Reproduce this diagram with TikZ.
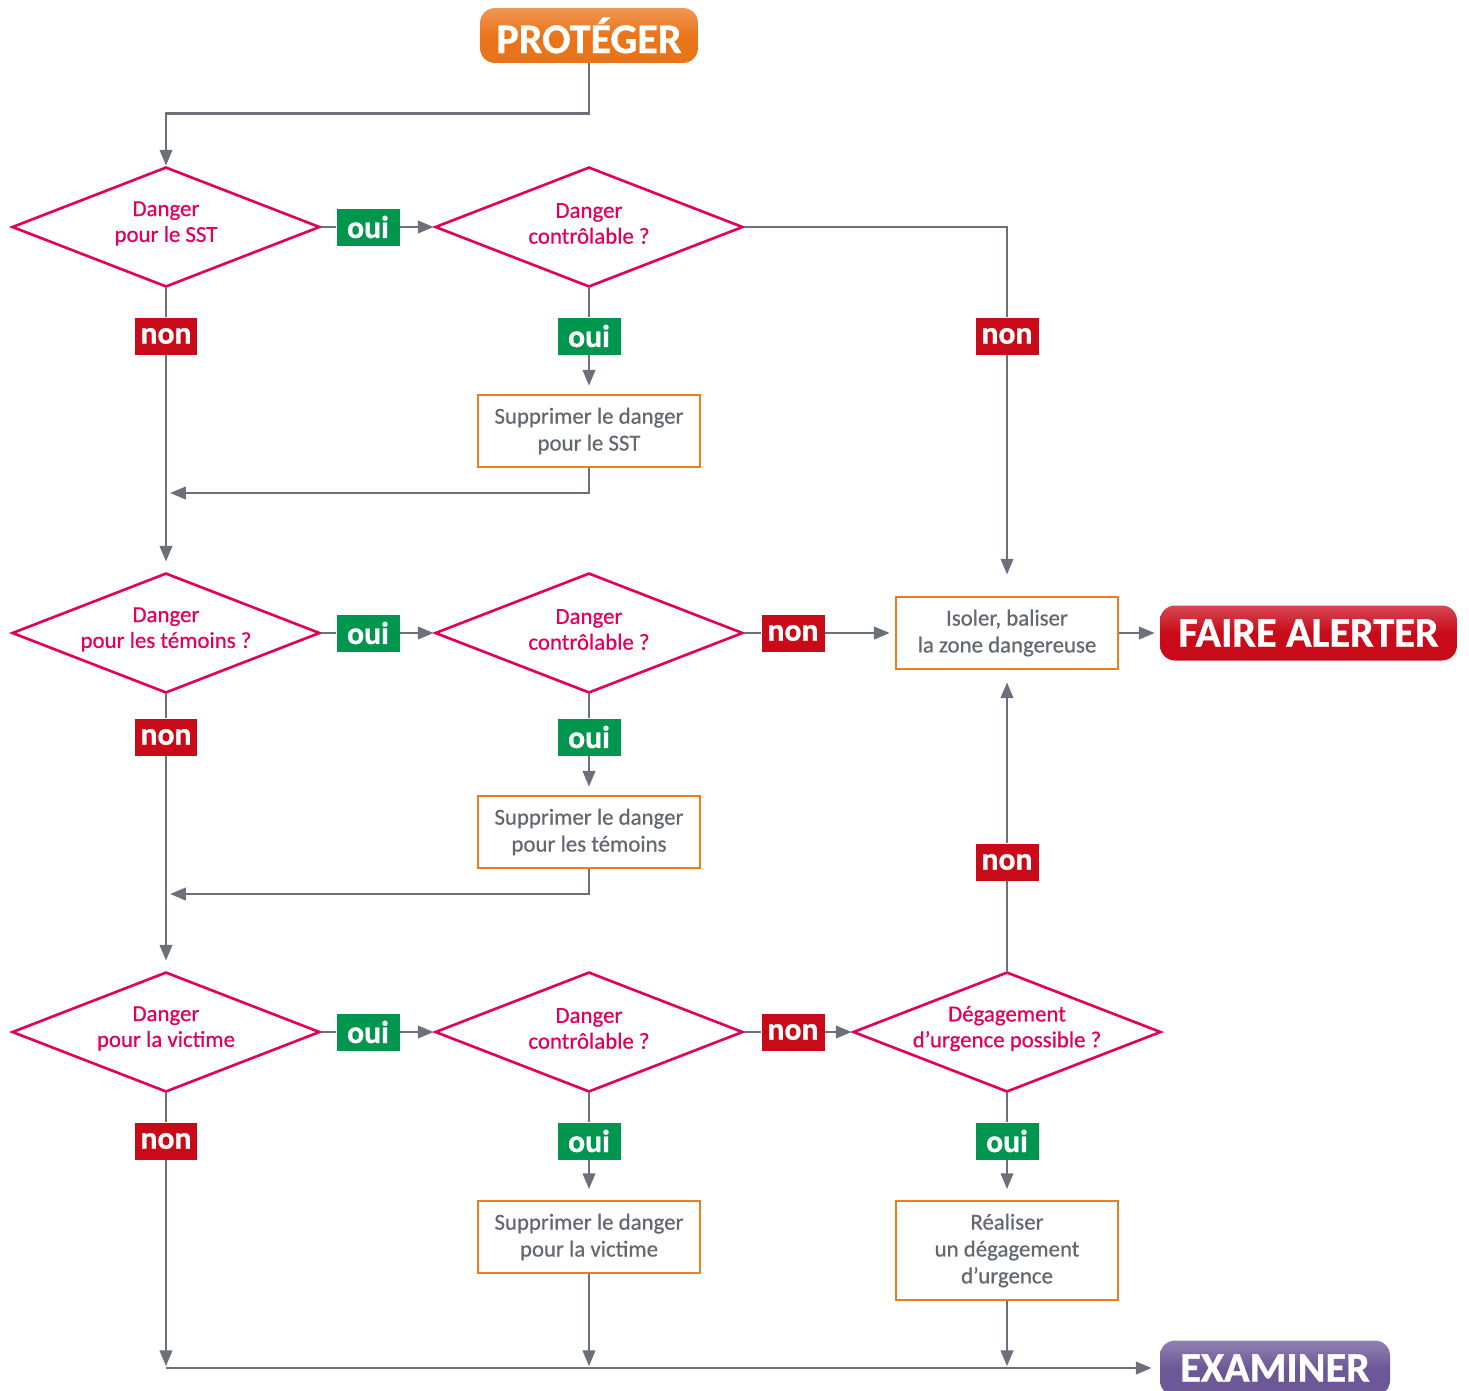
\documentclass[tikz,border=0pt]{standalone}
\usepackage{fontspec}
\setmainfont{Carlito}
\newfontfamily\medfont{Carlito}[FakeBold=0.6]
\newfontfamily\noirfont{Carlito Bold}[FakeBold=0.8]
\usetikzlibrary{positioning,shapes.geometric,arrows.meta}
\definecolor{rose}{RGB}{226,0,90}
\definecolor{orbord}{RGB}{238,125,30}
\definecolor{orbtn}{RGB}{234,116,26}
\definecolor{vert}{RGB}{0,150,78}
\definecolor{rouge}{RGB}{200,10,25}
\definecolor{violet}{RGB}{108,88,150}
\definecolor{gris}{RGB}{108,112,120}
\definecolor{gristxt}{RGB}{100,104,112}

\begin{document}
\begin{tikzpicture}[x=0.02cm,y=-0.02cm]
            \tikzstyle{dia}=[diamond, draw=rose, line width=1.5pt, inner sep=0pt, minimum width=6.16cm, minimum height=2.4cm]
            \tikzstyle{dtxt}=[align=center, text=rose, inner sep=0pt, yshift=2pt, font=\medfont\fontsize{13}{14.7}\selectfont]
            \tikzstyle{act}=[draw=orbord, line width=1.5pt, fill=white, minimum width=4.44cm, minimum height=1.44cm, align=center, text=gristxt, font=\medfont\fontsize{13}{15.3}\selectfont]
            \tikzstyle{oui}=[fill=vert, text=white, minimum width=1.26cm, minimum height=0.74cm, inner sep=0pt, font=\noirfont\fontsize{18}{18}\selectfont]
            \tikzstyle{non}=[oui, fill=rouge]
            \tikzstyle{btn}=[rounded corners=0.3cm, minimum height=1.1cm, inner sep=0pt, text=white, font=\noirfont\fontsize{24}{24}\selectfont]
            \tikzstyle{lien}=[draw=gris, line width=1.6pt]
            \tikzstyle{fl}=[lien, -{Triangle[length=9pt,width=7pt]}]

            \useasboundingbox (0,0) rectangle (1469,1390);

            % boutons
            \node[btn, minimum width=4.36cm, top color=orbtn!75!white, bottom color=orbtn, middle color=orbtn] (prot) at (589,35.5) {PROTÉGER};
            \node[btn, minimum width=5.94cm, top color=rouge!75!white, bottom color=rouge, middle color=rouge] (alert) at (1308.5,633) {FAIRE ALERTER};
            \node[btn, minimum width=4.6cm, top color=violet!75!white, bottom color=violet, middle color=violet] (exam) at (1275,1368) {EXAMINER};

            % losanges
            \node[dia] (d1) at (166,227) {};
            \node[dia] (d2) at (589,227) {};
            \node[dia] (d3) at (166,633) {};
            \node[dia] (d4) at (589,633) {};
            \node[dia] (d5) at (166,1032) {};
            \node[dia] (d6) at (589,1032) {};
            \node[dia] (d7) at (1007,1032) {};
            \node[dtxt] (t1) at (d1) {Danger\\pour le SST};
            \node[dtxt] (t2) at (d2) {Danger\\contrôlable ?};
            \node[dtxt] (t3) at (d3) {Danger\\pour les témoins ?};
            \node[dtxt] (t4) at (d4) {Danger\\contrôlable ?};
            \node[dtxt] (t5) at (d5) {Danger\\pour la victime};
            \node[dtxt] (t6) at (d6) {Danger\\contrôlable ?};
            \node[dtxt] (t7) at (d7) {Dégagement\\d’urgence possible ?};

            % actions
            \node[act] (s1) at (589,431) {Supprimer le danger\\pour le SST};
            \node[act] (s2) at (589,832) {Supprimer le danger\\pour les témoins};
            \node[act] (s3) at (589,1237) {Supprimer le danger\\pour la victime};
            \node[act] (iso) at (1007,633) {Isoler, baliser\\la zone dangereuse};
            \node[act, minimum height=1.98cm] (rea) at (1007,1250.5) {Réaliser\\un dégagement\\d’urgence};

            % oui / non
            \node[oui] (o1) at (368,227) {oui};
            \node[non] (n1) at (166,336) {non};
            \node[oui] (o2) at (589,336) {oui};
            \node[non] (n2) at (1007,336) {non};
            \node[oui] (o3) at (368,633) {oui};
            \node[non] (n3) at (166,737) {non};
            \node[oui] (o4) at (589,737) {oui};
            \node[non] (n4) at (793,633) {non};
            \node[oui] (o5) at (368,1032) {oui};
            \node[non] (n5) at (166,1141) {non};
            \node[oui] (o6) at (589,1141) {oui};
            \node[non] (n6) at (793,1032) {non};
            \node[oui] (o7) at (1007,1141) {oui};
            \node[non] (n7) at (1007,862) {non};

            \coordinate (j1) at (170,493);
            \coordinate (j2) at (170,894);
            \coordinate (b1) at (166,1368);
            \coordinate (b2) at (589,1368);
            \coordinate (b3) at (1007,1368);

            % liaisons
            \draw[fl] (prot.south) -- ++(0,50) -| (d1.north);
            \draw[lien] (d1) -- (o1);
            \draw[fl] (o1) -- (d2.west);
            \draw[lien] (d1) -- (n1);
            \draw[fl, shorten >=5.7pt] (n1) -- (d3.north);
            \draw[lien] (d2.east) -| (n2);
            \draw[fl, shorten >=12pt] (n2) -- (iso.north);
            \draw[lien] (d2) -- (o2);
            \draw[fl, shorten >=4.5pt] (o2) -- (s1.north);
            \draw[fl] (s1.south) |- (j1);

            \draw[lien] (d3) -- (o3);
            \draw[fl] (o3) -- (d4.west);
            \draw[lien] (d3) -- (n3);
            \draw[fl, shorten >=5.7pt] (n3) -- (d5.north);
            \draw[lien] (d4) -- (n4);
            \draw[fl, shorten >=2.8pt] (n4) -- (iso.west);
            \draw[fl, shorten >=2.8pt] (iso.east) -- (alert.west);
            \draw[lien] (d4) -- (o4);
            \draw[fl, shorten >=4.5pt] (o4) -- (s2.north);
            \draw[fl] (s2.south) |- (j2);

            \draw[lien] (d5) -- (o5);
            \draw[fl] (o5) -- (d6.west);
            \draw[lien] (d5) -- (n5);
            \draw[fl, shorten >=1pt] (n5) -- (b1);
            \draw[lien] (d6) -- (n6);
            \draw[fl] (n6) -- (d7.west);
            \draw[lien] (d6) -- (o6);
            \draw[fl, shorten >=6pt] (o6) -- (s3.north);
            \draw[fl, shorten >=1pt] (s3) -- (b2);
            \draw[lien] (d7) -- (n7);
            \draw[fl, shorten >=6.8pt] (n7) -- (iso.south);
            \draw[lien] (d7) -- (o7);
            \draw[fl, shorten >=6pt] (o7) -- (rea.north);
            \draw[fl, shorten >=1pt] (rea) -- (b3);
            \draw[fl, shorten >=4.5pt] (b1) -- (exam.west);
\end{tikzpicture}
\end{document}
